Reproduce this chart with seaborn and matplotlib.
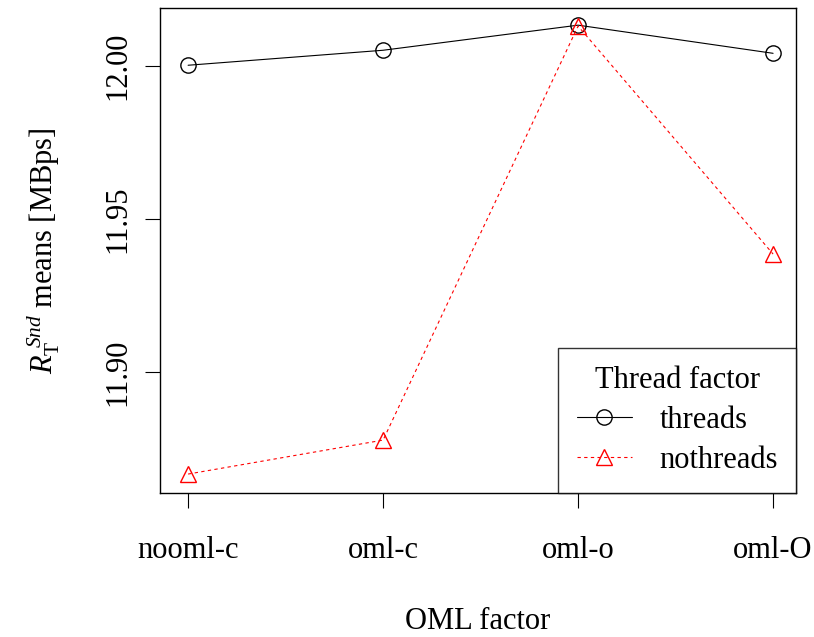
import matplotlib
matplotlib.use("Agg")
import matplotlib.pyplot as plt
import seaborn as sns

oml_levels = ["nooml-c", "oml-c", "oml-o", "oml-O"]
threads_means = [12.0003, 12.0052, 12.0134, 12.0042]
nothreads_means = [11.8667, 11.8778, 12.0131, 11.9386]
thread_levels = ["threads", "nothreads"]
y_ticks = [11.90, 11.95, 12.00]

sns.set_style("ticks")
plt.rcParams["font.family"] = ["Liberation Serif", "DejaVu Serif"]
plt.rcParams["mathtext.fontset"] = "custom"
plt.rcParams["mathtext.rm"] = "Liberation Serif"
plt.rcParams["mathtext.it"] = "Liberation Serif:italic"
for key in ["text.color", "axes.labelcolor", "xtick.color", "ytick.color", "axes.edgecolor"]:
    plt.rcParams[key] = "black"

fig = plt.figure(figsize=(8.14, 6.37), dpi=100)
ax = fig.add_axes([0.1966, 0.226, 0.9780 - 0.1966, 0.9874 - 0.226])

pos = list(range(len(oml_levels)))
styles = [("black", "-", "o", 11), ("red", (0, (3, 3)), "^", 12)]
handles = []
for vals, (col, ls, mk, ms) in zip([threads_means, nothreads_means], styles):
    sns.lineplot(x=pos, y=vals, color=col, linestyle=ls, marker=mk,
                 markersize=ms, markerfacecolor="none", markeredgecolor=col,
                 markeredgewidth=1.0, linewidth=0.8, ax=ax)
    handles.append(ax.lines[-1])

ax.set_xlim(-0.144, 3.118)
ax.set_ylim(11.8605, 12.019)
ax.set_xticks(pos)
ax.set_xticklabels(oml_levels)
ax.set_yticks(y_ticks)
ax.set_yticklabels([f"{v:.2f}" for v in y_ticks], rotation=90, va="center")
ax.tick_params(axis="both", direction="out", length=11, width=0.8,
               labelsize=22, color="black")
ax.tick_params(axis="x", pad=20)
ax.tick_params(axis="y", pad=9)
for s in ax.spines.values():
    s.set_visible(True)
    s.set_linewidth(1.0)

ax.set_xlabel("OML factor", fontsize=22, labelpad=30)
ax.set_ylabel(r"$R_{\mathrm{T}}^{\ Snd}$ means [MBps]", fontsize=22, labelpad=30)

leg = ax.legend(handles, thread_levels, title="Thread factor",
                loc="lower right", borderaxespad=0, fancybox=False,
                frameon=True, fontsize=22, title_fontsize=22,
                handlelength=1.8, handletextpad=0.9, borderpad=0.6,
                labelspacing=0.35)
leg.get_frame().set_edgecolor("black")
leg.get_frame().set_linewidth(1.0)

fig.savefig("out.png", dpi=100)
plt.close(fig)
